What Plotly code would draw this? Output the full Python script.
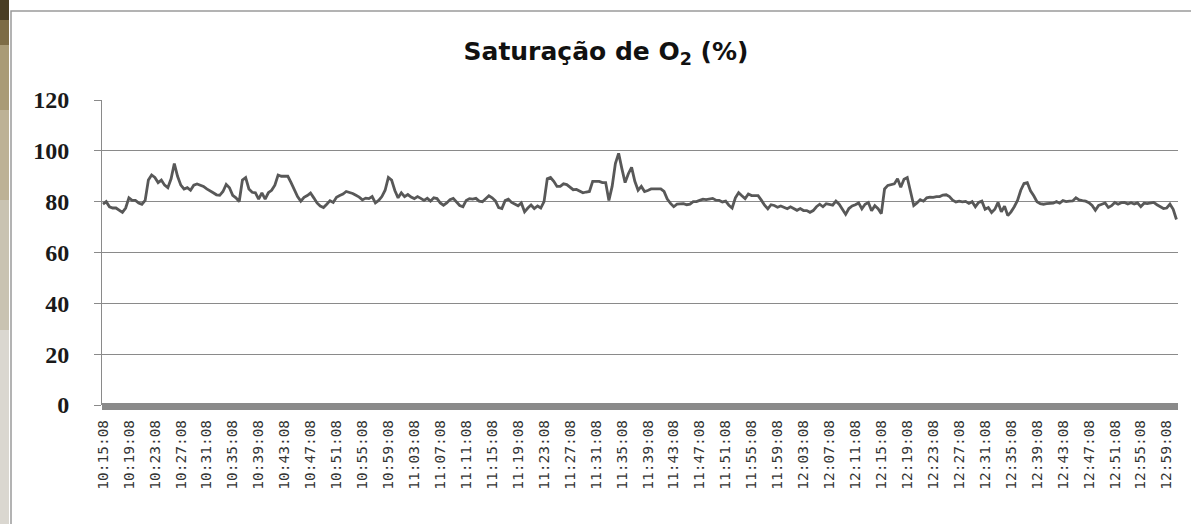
import datetime as dt
import plotly.graph_objects as go

# ---- data -------------------------------------------------------------
start_time = "10:15:08"
sample_seconds = 30
saturacao = [
    79, 80, 78, 77.5, 77.5, 76.5, 75.8, 77.5, 81.5, 80.5,
    80.5, 79.5, 79, 80.5, 88.5, 90.5, 89.5, 87.5, 88.5, 86.5,
    85.5, 89, 95, 90, 86.5, 85, 85.5, 84.5, 86.5, 87,
    86.5, 86, 85, 84.4, 83.5, 82.7, 82.5, 84, 86.8, 85.5,
    82.5, 81.5, 80, 88.5, 89.5, 85, 83.7, 83.5, 81, 83.5,
    81, 83.5, 84.5, 86.5, 90.5,
    90, 90, 90, 87.5, 84.5, 82, 80.2, 81.7, 82.4, 83.4,
    81.5, 79.5, 78.3, 77.7, 79, 80.4, 79.7, 81.7, 82.4, 83,
    84, 83.7, 83.2, 82.5, 81.8, 80.7, 81.4, 81.2, 82, 79.5,
    80.5, 82, 84.5, 89.5, 88.5, 84.4, 81.5, 83.5, 82, 82.8,
    81.8, 81.2, 82, 81.3, 80.5, 81.3, 80.2, 81.5, 81.2, 79.5,
    78.6, 79.5, 80.8, 81.3, 80,
    78.5, 78, 80.5, 81.2, 81, 81.3, 80.2, 80, 81.2, 82.3,
    81.5, 80.3, 77.7, 77.3, 80.4, 81, 79.7, 79, 78.4, 79.5,
    76, 77.5, 78.7, 77.3, 78.3, 77.5, 80, 89, 89.5, 88,
    86, 86, 87, 86.7, 85.5, 84.7, 84.8, 84, 83.5, 83.8,
    84, 88, 88, 88, 87.5, 87.5, 80.5, 86, 95, 99,
    93, 87.5, 91, 93.5, 88, 84.5,
    86, 84, 84.4, 85, 85, 85, 85, 84, 81, 79.3,
    78, 79, 79, 79.2, 78.8, 79, 80, 80, 80.5, 81,
    80.8, 81, 81.3, 80.6, 80.5, 79.9, 80.2, 78.6, 77.5, 81.5,
    83.5, 82.3, 81.2, 83, 82.4, 82.4, 82.4, 80.6, 78.6, 77.2,
    78.8, 78.5, 77.8, 78.3, 77.8, 77.2, 78, 77.4, 76.6, 77.3,
    76.5, 76.5, 75.8, 76.5, 78,
    79, 78, 79.2, 79, 78.6, 80.2, 79, 77, 75, 77.3,
    78.3, 78.8, 79.5, 77.2, 79, 79.7, 76.4, 78.4, 77.2, 75.3,
    85, 86.4, 86.8, 87, 89, 85.7, 88.8, 89.5, 84, 78.5,
    79.5, 80.8, 80.2, 81.5, 81.8, 81.7, 82, 82, 82.6, 82.7,
    82, 80.6, 79.9, 80.2, 79.9, 80.1, 79.3, 80, 78, 79.7,
    80.2, 77, 77.7, 75.7, 77, 79.7,
    76, 78.2, 74.5, 76, 78, 80.5, 84.5, 87.2, 87.5, 84.3,
    82.3, 80, 79.2, 79, 79.2, 79.4, 79.4, 80, 79.4, 80.4,
    80, 80.2, 80.3, 81.5, 80.7, 80.4, 80.2, 79.6, 78.5, 76.6,
    78.5, 79, 79.5, 77.7, 78.4, 79.7, 79, 79.6, 79.7, 79.1,
    79.6, 79.1, 79.5, 78, 79.4, 79.2, 79.6, 79.7, 78.8, 78,
    77.3, 77.5, 79, 77, 73,
]
tick_labels = [
    "10:15:08", "10:19:08", "10:23:08", "10:27:08", "10:31:08", "10:35:08",
    "10:39:08", "10:43:08", "10:47:08", "10:51:08", "10:55:08", "10:59:08",
    "11:03:08", "11:07:08", "11:11:08", "11:15:08", "11:19:08", "11:23:08",
    "11:27:08", "11:31:08", "11:35:08", "11:39:08", "11:43:08", "11:47:08",
    "11:51:08", "11:55:08", "11:59:08", "12:03:08", "12:07:08", "12:11:08",
    "12:15:08", "12:19:08", "12:23:08", "12:27:08", "12:31:08", "12:35:08",
    "12:39:08", "12:43:08", "12:47:08", "12:51:08", "12:55:08", "12:59:08",
]
y_ticks = [0, 20, 40, 60, 80, 100, 120]

# ---- build time axis ----------------------------------------------------
day = "2000-01-01 "
t0 = dt.datetime.strptime(day + start_time, "%Y-%m-%d %H:%M:%S")
times = [t0 + dt.timedelta(seconds=sample_seconds * i) for i in range(len(saturacao))]
tick_vals = [dt.datetime.strptime(day + s, "%Y-%m-%d %H:%M:%S") for s in tick_labels]

W, H = 1191, 524
ML, MR, MT, MB = 102, 13, 100, 119
PW = W - ML - MR
PH = H - MT - MB

def px_x(p):
    return (p - ML) / PW

def px_y(p):
    return (H - MB - p) / PH

fig = go.Figure()
fig.add_trace(go.Scatter(
    x=times, y=saturacao, mode="lines",
    line=dict(color="#585858", width=2.8),
    hoverinfo="skip", showlegend=False,
))

grey = "#8a8a8a"
shapes = []
# chart frame
shapes.append(dict(type="rect", xref="paper", yref="paper",
                   x0=px_x(11), x1=px_x(1200), y0=px_y(540), y1=px_y(11),
                   line=dict(color="#9a9a9a", width=1.5), fillcolor="rgba(0,0,0,0)", layer="below"))
# thick base bar at zero
shapes.append(dict(type="line", xref="paper", yref="paper",
                   x0=0, x1=1, y0=px_y(406.5), y1=px_y(406.5),
                   line=dict(color=grey, width=7)))
# left photo strip
strip = [(0, 20, "#4a3e24"), (20, 45, "#7d6c45"), (45, 110, "#a99b76"),
         (110, 200, "#bdb296"), (200, 330, "#c9c3b2"), (330, 524, "#dad7d0")]
for a, b, c in strip:
    shapes.append(dict(type="rect", xref="paper", yref="paper",
                       x0=px_x(0), x1=px_x(9), y0=px_y(b), y1=px_y(a),
                       line=dict(width=0), fillcolor=c, layer="below"))

x_start = t0 - dt.timedelta(seconds=9)
x_end = t0 + dt.timedelta(seconds=165.74 * 60)

fig.update_layout(
    width=W, height=H,
    margin=dict(l=ML, r=MR, t=MT, b=MB, pad=0),
    paper_bgcolor="white", plot_bgcolor="white",
    title=dict(text="Saturação de O<sub>2</sub> (%)",
               font=dict(family="DejaVu Sans", size=25, color="#111111", weight="bold"),
               x=606 / W, xanchor="center", xref="container",
               y=1 - 51 / H, yanchor="middle", yref="container"),
    shapes=shapes,
    xaxis=dict(
        type="date", range=[x_start, x_end],
        tickmode="array", tickvals=tick_vals, ticktext=tick_labels,
        tickangle=-90, showgrid=False, zeroline=False, showline=False,
        ticks="", ticklabelstandoff=11,
        tickfont=dict(family="DejaVu Sans Mono", size=14.5, color="#333333"),
    ),
    yaxis=dict(
        range=[0, 120], tickmode="array", tickvals=y_ticks,
        showgrid=True, gridcolor=grey, gridwidth=1,
        zeroline=False, showline=True, linecolor=grey, linewidth=1,
        ticks="outside", ticklen=7, tickcolor=grey,
        ticklabelstandoff=20,
        tickfont=dict(family="Liberation Serif", size=24, color="#1a1a1a", weight="bold"),
    ),
)

fig.write_html("out.html", config={"displayModeBar": False},
               post_script="document.body.style.margin='0';document.body.style.overflow='hidden';")
